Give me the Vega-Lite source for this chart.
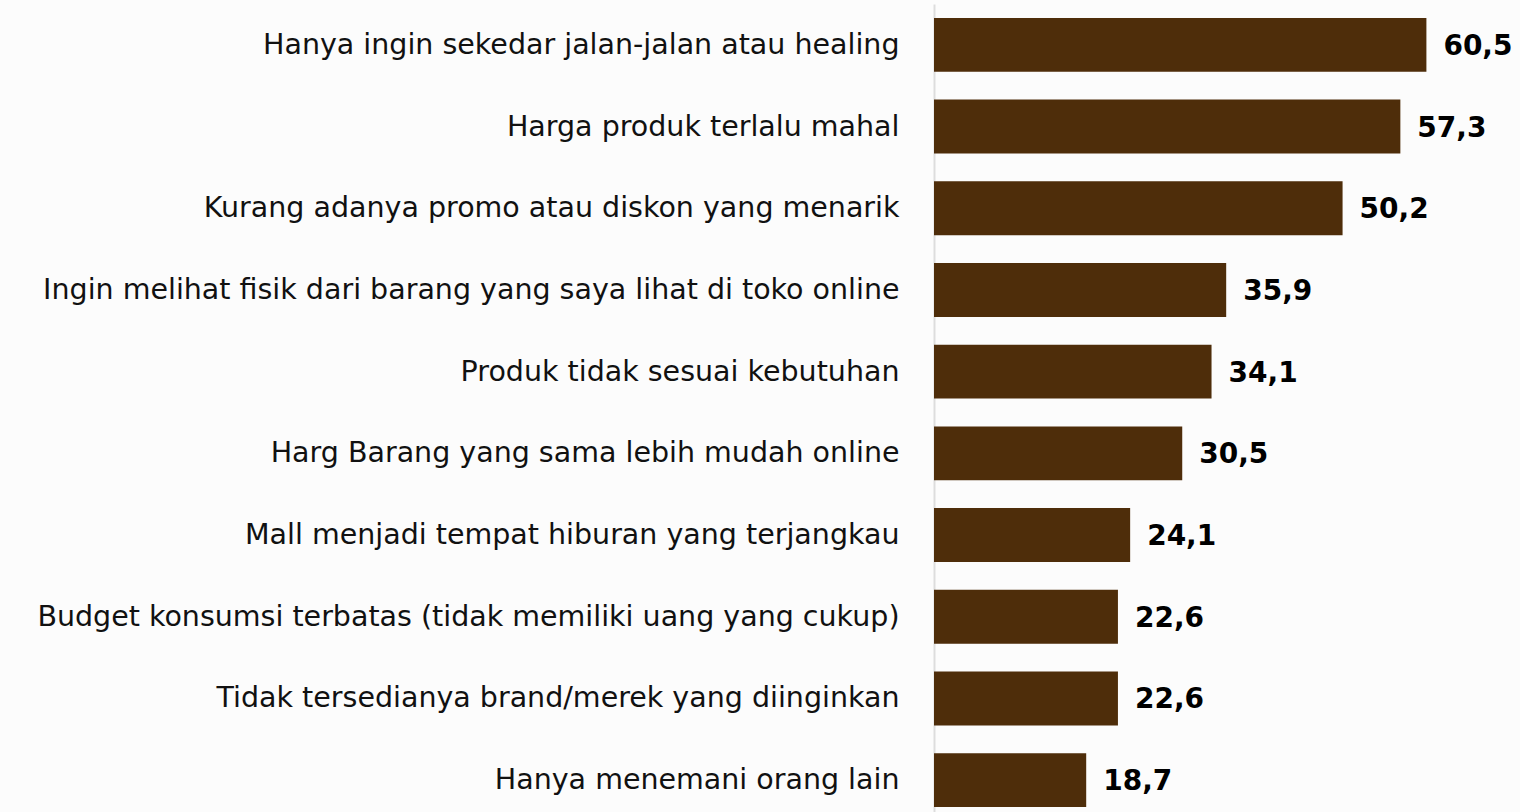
{
  "$schema": "https://vega.github.io/schema/vega-lite/v6.json",
  "autosize": {"type": "none"},
  "padding": {"left": 934, "top": 4, "right": 0, "bottom": 0},
  "width": 586,
  "height": 817,
  "background": "#fcfcfc",
  "config": {
    "view": {"stroke": null},
    "locale": {"number": {"decimal": ",", "thousands": ".", "grouping": [3], "currency": ["", ""]}}
  },
  "data": {
    "values": [
      {"alasan": "Hanya ingin sekedar jalan-jalan atau healing", "nilai": 60.5},
      {"alasan": "Harga produk terlalu mahal", "nilai": 57.3},
      {"alasan": "Kurang adanya promo atau diskon yang menarik", "nilai": 50.2},
      {"alasan": "Ingin melihat fisik dari barang yang saya lihat di toko online", "nilai": 35.9},
      {"alasan": "Produk tidak sesuai kebutuhan", "nilai": 34.1},
      {"alasan": "Harg Barang yang sama lebih mudah online", "nilai": 30.5},
      {"alasan": "Mall menjadi tempat hiburan yang terjangkau", "nilai": 24.1},
      {"alasan": "Budget konsumsi terbatas (tidak memiliki uang yang cukup)", "nilai": 22.6},
      {"alasan": "Tidak tersedianya brand/merek yang diinginkan", "nilai": 22.6},
      {"alasan": "Hanya menemani orang lain ", "nilai": 18.7}
    ]
  },
  "encoding": {
    "y": {
      "field": "alasan",
      "type": "nominal",
      "sort": null,
      "scale": {"paddingInner": 0.34, "paddingOuter": 0.17},
      "axis": {
        "title": null,
        "ticks": false,
        "domain": true,
        "domainColor": "#dddddd",
        "domainWidth": 2,
        "labelPadding": 35,
        "labelFont": "DejaVu Sans",
        "labelFontSize": 28.5,
        "labelColor": "#111111",
        "labelLimit": 1000,
        "grid": false
      }
    },
    "x": {
      "field": "nilai",
      "type": "quantitative",
      "scale": {"domain": [0, 72]},
      "axis": null
    }
  },
  "layer": [
    {"mark": {"type": "bar", "color": "#4e2d0a"}},
    {
      "mark": {"type": "text", "align": "left", "baseline": "middle", "dx": 17, "dy": 2, "font": "DejaVu Sans", "fontSize": 28, "fontWeight": "bold", "color": "#000000"},
      "encoding": {"text": {"field": "nilai", "type": "quantitative", "format": ".1f"}}
    }
  ]
}
